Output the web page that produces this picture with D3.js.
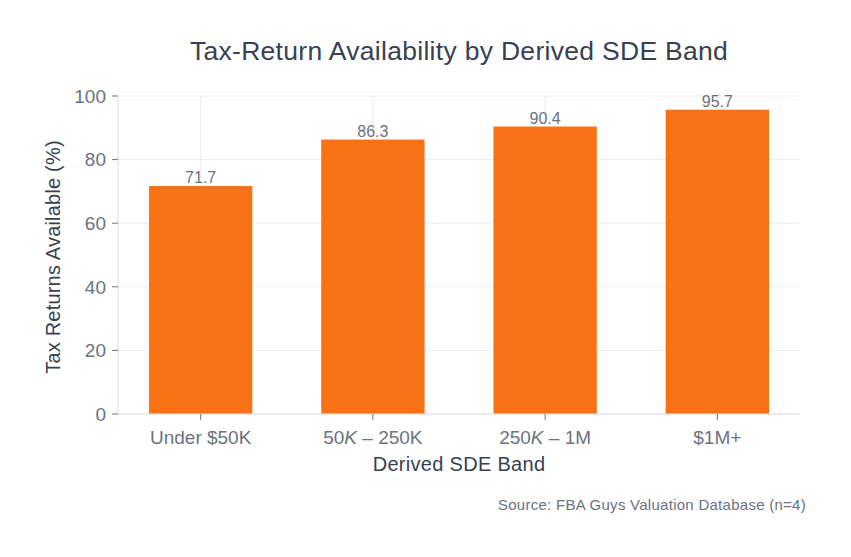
<!DOCTYPE html>
<html><head><meta charset="utf-8">
<script src="https://cdn.jsdelivr.net/npm/d3@7"></script>
<style>body{margin:0;background:#fff}svg{display:block}text{font-family:"Liberation Sans",Arial,Helvetica,sans-serif}</style>
</head><body>
<script>
const categories = ["Under $50K", "50K – 250K", "250K – 1M", "$1M+"];
const values = [71.7, 86.3, 90.4, 95.7];
const yTicks = [0, 20, 40, 60, 80, 100];

const W = 851, H = 557;
const mLeft = 118, mRight = 800, mTop = 96, mBottom = 414;
const svg = d3.select("body").append("svg").attr("width", W).attr("height", H);

const x = d3.scaleLinear().domain([-0.48, 3.48]).range([mLeft, mRight]);
const y = d3.scaleLinear().domain([0, 100]).range([mBottom, mTop]);
const bw = x(0.6) - x(0);

// grid
svg.append("g").selectAll("line").data(yTicks).join("line")
  .attr("x1", mLeft).attr("x2", mRight).attr("y1", d => y(d)).attr("y2", d => y(d))
  .attr("stroke", "#ebecf0").attr("stroke-width", 1);
svg.append("g").selectAll("line").data(categories).join("line")
  .attr("x1", (d, i) => x(i)).attr("x2", (d, i) => x(i)).attr("y1", mTop).attr("y2", mBottom)
  .attr("stroke", "#ebecf0").attr("stroke-width", 1);

// bars
svg.append("g").selectAll("rect").data(values).join("rect")
  .attr("x", (d, i) => x(i) - bw / 2).attr("width", bw)
  .attr("y", d => y(d)).attr("height", d => mBottom - y(d))
  .attr("fill", "#f97316");

// value labels
svg.append("g").selectAll("text").data(values).join("text")
  .attr("x", (d, i) => x(i)).attr("y", d => y(d) - 3)
  .attr("text-anchor", "middle").attr("font-size", 16).attr("fill", "#6b7280")
  .text(d => d.toFixed(1));

// spines
svg.append("line").attr("x1", mLeft).attr("x2", mLeft).attr("y1", mTop).attr("y2", mBottom)
  .attr("stroke", "#e2e4ea").attr("stroke-width", 1.2);
svg.append("line").attr("x1", mLeft).attr("x2", mRight).attr("y1", mBottom).attr("y2", mBottom)
  .attr("stroke", "#e2e4ea").attr("stroke-width", 1.2);

// y ticks
const gy = svg.append("g");
gy.selectAll("line").data(yTicks).join("line")
  .attr("x1", mLeft - 6).attr("x2", mLeft).attr("y1", d => y(d)).attr("y2", d => y(d))
  .attr("stroke", "#6b7280").attr("stroke-width", 1);
gy.selectAll("text").data(yTicks).join("text")
  .attr("x", mLeft - 12).attr("y", d => y(d)).attr("dy", "0.36em")
  .attr("text-anchor", "end").attr("font-size", 19).attr("fill", "#6b7280")
  .text(d => d);

// x ticks
const gx = svg.append("g");
gx.selectAll("line").data(categories).join("line")
  .attr("x1", (d, i) => x(i)).attr("x2", (d, i) => x(i)).attr("y1", mBottom).attr("y2", mBottom + 6)
  .attr("stroke", "#6b7280").attr("stroke-width", 1);
gx.selectAll("text").data(categories).join("text")
  .attr("x", (d, i) => x(i)).attr("y", 444)
  .attr("text-anchor", "middle").attr("font-size", 19).attr("fill", "#6b7280")
  .each(function (d) {
    const t = d3.select(this);
    const m = d.match(/^(\d+)K( – .*)$/);
    if (m) {
      t.append("tspan").text(m[1]);
      t.append("tspan").attr("font-style", "italic").text("K");
      t.append("tspan").text(m[2]);
    } else {
      t.text(d);
    }
  });

// axis labels
svg.append("text").attr("x", (mLeft + mRight) / 2).attr("y", 471)
  .attr("text-anchor", "middle").attr("font-size", 20).attr("letter-spacing", 0.3).attr("fill", "#374151")
  .text("Derived SDE Band");
svg.append("text").attr("transform", `translate(60,${(mTop + mBottom) / 2 + 2}) rotate(-90)`)
  .attr("text-anchor", "middle").attr("font-size", 20).attr("letter-spacing", 0.2).attr("fill", "#374151")
  .text("Tax Returns Available (%)");

// title
svg.append("text").attr("x", (mLeft + mRight) / 2).attr("y", 60)
  .attr("text-anchor", "middle").attr("font-size", 26.5).attr("letter-spacing", 0.3).attr("fill", "#374151")
  .text("Tax-Return Availability by Derived SDE Band");

// source
svg.append("text").attr("x", 806).attr("y", 510)
  .attr("text-anchor", "end").attr("font-size", 15).attr("letter-spacing", 0.27).attr("fill", "#6b7280")
  .text("Source: FBA Guys Valuation Database (n=4)");
</script>
</body></html>
